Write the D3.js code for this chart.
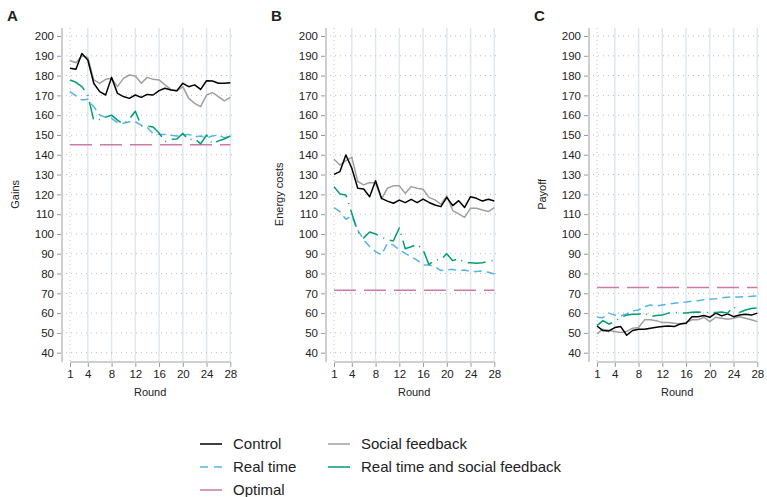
<!DOCTYPE html>
<html>
<head>
<meta charset="utf-8">
<script src="https://cdn.jsdelivr.net/npm/d3@7"></script>
<style>
  body { margin: 0; background: #fff; }
  svg text { font-family: "Liberation Sans", Arial, sans-serif; fill: #222; }
</style>
</head>
<body>
<script>
// chart size
const c_width = 767;
const c_height = 497;

const rounds = [1,2,3,4,5,6,7,8,9,10,11,12,13,14,15,16,17,18,19,20,21,22,23,24,25,26,27,28];
const roundTicks = [1, 4, 8, 12, 16, 20, 24, 28];
const yTicks = [40, 50, 60, 70, 80, 90, 100, 110, 120, 130, 140, 150, 160, 170, 180, 190, 200];

// panel A - gains
const gainsControl  = [183.7,183.2,191.2,187.9,176.1,171.9,170.2,179.1,171,169.4,168.5,170.2,169,170.5,170.2,172.4,173.6,172.7,172.4,176.1,174.4,175.3,173,177.4,177.3,176.1,176.1,176.4];
const gainsSocial   = [187.6,186.5,189.9,189.2,177.8,176.1,178.1,178.6,174.4,178.6,180.3,179.8,176.1,179.1,178.1,177.8,175.3,173,172.2,174.4,168.5,166,164.3,170.2,171.4,169.4,167.2,169];
const gainsRealTime = [171.9,169.7,167.7,168,164.3,160.1,158.9,158.4,156.2,155.9,156.7,156.7,155,153.8,150.8,150.3,150.3,149.8,149.5,150,150.3,149,149.5,148.5,149.5,150,148.5,149.5];
const gainsBoth     = [177.8,176.6,174.4,170.2,157.5,157.8,159,160,157.5,155.5,158,162,154.5,154.5,154,151,146.6,147.8,148,150.8,147.5,148.3,145.5,150,145.5,147,148,149.5];
const gainsOptimal  = 145;

// panel B - energy costs
const costsControl  = [130.1,131.5,139.9,133.2,123.1,122.7,118.8,126.9,118,116.6,115.5,117.1,115.8,117.5,115.8,117.6,115.9,114.6,113.8,118.5,114.3,116.8,113.4,118.8,118,116.6,117.5,116.6];
const costsSocial   = [137.7,134.8,137,138.7,126.5,124.8,126,125.7,117.6,123.1,124.3,124.3,120.5,123.9,123.1,122.6,118.5,117.2,115,119.2,111.8,110.1,108.4,113,113,112.1,111.3,113.3];
const costsRealTime = [113.3,111.3,107.4,109.1,102,97,93.6,91.1,89.4,95.3,94.4,91.9,90.2,88.5,86.8,84.3,84.3,83.5,81.5,81.8,82.1,81.3,81.8,81,81,81.3,80.6,79.8];
const costsBoth     = [123.9,120.2,119.7,110.4,101,98,101,100,98.5,97,96.5,103,92.5,93.5,94.8,92,84.5,87,87,90,86.5,87.5,85.5,85.5,85.2,85.5,86,86.9];
const costsOptimal  = 71.5;

// panel C - payoff
const payControl  = [53.5,51.2,51,52.7,53.2,48.8,51.2,51.9,51.9,52.4,52.9,53.2,53.5,53.2,54.5,54.9,58.2,58.2,58.8,57.9,60,58.6,59.6,58.2,59,59.4,59,60];
const paySocial   = [49.5,51.9,51.2,50.7,50.2,50.7,52.4,52.7,56.6,56.6,56.2,55.2,55.2,54.9,54.5,55.2,56.6,56.6,57.9,55.7,57.9,57.4,56.9,57.4,58.2,57.4,56.6,55.7];
const payRealTime = [57.9,57.7,60,59,58.6,59.6,61.1,61.6,63.3,64.1,63.6,64.1,64.6,65,65.3,65.6,66,66.3,66.7,67,67.2,67.7,68,68.2,68.2,68.4,68.5,68.7];
const payBoth     = [53.7,56.2,54.5,55.7,57.9,59,59.4,59.4,60.3,58.2,58.8,59,60,60.4,60,60,60.4,60.6,60.3,60.3,60.3,60.6,60,63.3,60.3,61.6,62.3,62.6];
const payOptimal  = 73;

const seriesNames = ['Control', 'Real time', 'Optimal', 'Social feedback', 'Real time and social feedback'];

// styles for each series
const styles = {
  'Control':                       {color: '#000000', dash: null},
  'Social feedback':               {color: '#a0a0a0', dash: null},
  'Real time':                     {color: '#56b4e9', dash: '8,5'},
  'Real time and social feedback': {color: '#009e73', dash: '18,6,1,6'},
  'Optimal':                       {color: '#cc79a7', dash: '22,8'}
};

const panels = [
  {label: 'A', title: 'Gains', left: 62,
   lines: [['Social feedback', gainsSocial], ['Control', gainsControl], ['Real time', gainsRealTime], ['Real time and social feedback', gainsBoth]],
   optimal: gainsOptimal},
  {label: 'B', title: 'Energy costs', left: 326,
   lines: [['Social feedback', costsSocial], ['Control', costsControl], ['Real time', costsRealTime], ['Real time and social feedback', costsBoth]],
   optimal: costsOptimal},
  {label: 'C', title: 'Payoff', left: 589,
   lines: [['Social feedback', paySocial], ['Control', payControl], ['Real time', payRealTime], ['Real time and social feedback', payBoth]],
   optimal: payOptimal}
];

const svgContainer = d3.select('body')
  .append('svg')
  .attr('width', c_width)
  .attr('height', c_height);

const plotTop = 28;
const plotBottom = 362;

const y = d3.scaleLinear().domain([40, 200]).range([352.7, 36]);

panels.forEach(p => {
  const x = d3.scaleLinear().domain([1, 28]).range([p.left + 8, p.left + 168.3]);
  const g = svgContainer.append('g');

  // panel letter
  g.append('text')
    .attr('x', p.left - 55)
    .attr('y', 21)
    .style('font-size', '15px')
    .style('font-weight', 'bold')
    .text(p.label);

  // vertical grid lines
  g.selectAll('.vgrid')
    .data(roundTicks.slice(1))
    .enter()
    .append('line')
    .attr('x1', d => x(d)).attr('x2', d => x(d))
    .attr('y1', plotTop).attr('y2', plotBottom)
    .attr('stroke', '#dfe8ee')
    .attr('stroke-width', 1.5);

  g.append('line')
    .attr('x1', x(1)).attr('x2', x(1))
    .attr('y1', plotTop).attr('y2', plotBottom)
    .attr('stroke', '#c8c8c8')
    .attr('stroke-dasharray', '1,3');

  // horizontal dotted grid
  g.selectAll('.hgrid')
    .data(yTicks)
    .enter()
    .append('line')
    .attr('x1', p.left + 4).attr('x2', p.left + 174)
    .attr('y1', d => y(d)).attr('y2', d => y(d))
    .attr('stroke', '#bdbdbd')
    .attr('stroke-dasharray', '1,4');

  // y axis
  const yAxis = d3.axisLeft(y).tickValues(yTicks).tickSize(5).tickPadding(3);
  const ya = g.append('g').attr('transform', 'translate(' + p.left + ',0)').call(yAxis);
  ya.select('.domain').remove();
  ya.selectAll('.tick line').attr('stroke', '#999');
  ya.selectAll('.tick text').style('font-size', '11.5px').style('font-family', '"Liberation Sans", Arial, sans-serif').attr('fill', '#222');
  g.append('line')
    .attr('x1', p.left).attr('x2', p.left)
    .attr('y1', plotTop).attr('y2', plotBottom)
    .attr('stroke', '#cfcfcf')
    .attr('stroke-width', 2);

  // x axis
  const xAxis = d3.axisBottom(x).tickValues(roundTicks).tickSize(5).tickPadding(3);
  const xa = g.append('g').attr('transform', 'translate(0,' + plotBottom + ')').call(xAxis);
  xa.select('.domain').remove();
  xa.selectAll('.tick line').attr('stroke', '#999');
  xa.selectAll('.tick text').style('font-size', '11.5px').style('font-family', '"Liberation Sans", Arial, sans-serif').attr('fill', '#222');
  g.append('line')
    .attr('x1', x(1)).attr('x2', x(28))
    .attr('y1', plotBottom).attr('y2', plotBottom)
    .attr('stroke', '#cfcfcf')
    .attr('stroke-width', 2);

  // axis titles
  g.append('text')
    .attr('x', (x(1) + x(28)) / 2)
    .attr('y', 396)
    .attr('text-anchor', 'middle')
    .style('font-size', '11px')
    .text('Round');

  g.append('text')
    .attr('transform', 'translate(' + (p.left - 43) + ',' + ((y(40) + y(200)) / 2) + ') rotate(-90)')
    .attr('text-anchor', 'middle')
    .style('font-size', '11px')
    .text(p.title);

  // optimal line
  g.append('line')
    .attr('x1', x(1)).attr('x2', x(28))
    .attr('y1', y(p.optimal)).attr('y2', y(p.optimal))
    .attr('stroke', styles['Optimal'].color)
    .attr('stroke-width', 1.5)
    .attr('stroke-dasharray', styles['Optimal'].dash);

  // data lines
  const line = d3.line().x((d, i) => x(rounds[i])).y(d => y(d));
  p.lines.forEach(([name, vals]) => {
    g.append('path')
      .datum(vals)
      .attr('d', line)
      .attr('fill', 'none')
      .attr('stroke', styles[name].color)
      .attr('stroke-width', 1.5)
      .attr('stroke-linejoin', 'round')
      .attr('stroke-dasharray', styles[name].dash);
  });
});

// legend
const legendPos = [[200, 444], [200, 467], [200, 490], [328, 444], [328, 467]];
const legend = svgContainer.append('g').attr('id', 'legend');
seriesNames.forEach((name, i) => {
  const [lx, ly] = legendPos[i];
  legend.append('line')
    .attr('x1', lx).attr('x2', lx + 22)
    .attr('y1', ly).attr('y2', ly)
    .attr('stroke', styles[name].color)
    .attr('stroke-width', 1.5)
    .attr('stroke-dasharray', name === 'Real time' ? '8,6' : null);
  legend.append('text')
    .attr('x', lx + 33)
    .attr('y', ly + 5)
    .style('font-size', '15px')
    .text(name);
});
</script>
</body>
</html>
